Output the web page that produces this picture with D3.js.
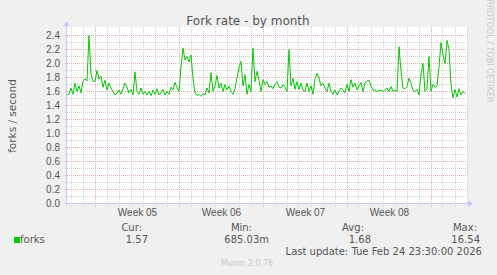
<!DOCTYPE html>
<html>
<head>
<meta charset="utf-8">
<script src="https://cdn.jsdelivr.net/npm/d3@7"></script>
<style>
  body { margin: 0; background: #f0f0f0; }
  svg { display: block; font-family: "DejaVu Sans", sans-serif; }
</style>
</head>
<body>
<svg id="chart"></svg>
<script>
// fork rate samples, one every 4 hours
var forkValues = [
  1.55,1.56,1.65,1.56,1.72,1.60,1.68,1.58,1.75,1.78,
  1.75,2.40,1.85,1.75,1.74,1.90,1.78,1.82,1.66,1.76,
  1.62,1.72,1.65,1.60,1.55,1.58,1.62,1.56,1.64,1.72,
  1.66,1.58,1.63,1.55,1.88,1.60,1.56,1.65,1.56,1.60,
  1.55,1.60,1.54,1.62,1.56,1.64,1.55,1.58,1.63,1.55,
  1.60,1.56,1.66,1.62,1.73,1.66,1.60,1.95,2.22,2.05,
  2.10,2.02,2.12,1.78,1.58,1.54,1.56,1.53,1.57,1.55,
  1.65,1.58,1.87,1.60,1.68,1.83,1.65,1.72,1.60,1.70,
  1.62,1.68,1.60,1.56,1.64,1.80,1.94,2.03,1.68,1.84,
  1.56,1.70,1.60,2.22,1.74,1.89,1.76,1.60,1.77,1.70,
  1.74,1.66,1.68,1.64,1.70,1.74,1.66,1.65,1.70,1.66,
  1.60,2.20,1.68,1.79,1.63,1.74,1.63,1.72,1.62,1.60,
  1.72,1.60,1.68,1.56,1.78,1.86,1.79,1.68,1.72,1.65,
  1.60,1.72,1.60,1.56,1.62,1.55,1.60,1.65,1.62,1.58,
  1.70,1.60,1.77,1.66,1.72,1.62,1.68,1.73,1.60,1.72,
  1.75,1.76,1.68,1.62,1.62,1.60,1.61,1.62,1.60,1.62,
  1.65,1.60,1.67,1.60,1.62,1.60,2.24,1.89,1.65,1.64,
  1.67,1.79,1.72,1.62,1.60,1.63,1.55,1.85,2.00,1.60,
  1.64,2.10,1.60,1.70,1.66,1.68,1.95,2.30,2.12,2.00,
  2.33,2.20,1.70,1.51,1.63,1.52,1.64,1.55,1.60,1.57
];
var firstSample = Date.UTC(2026, 0, 23, 16);
var stepHours = 4;
var timeDomain = [Date.UTC(2026, 0, 23, 16), Date.UTC(2026, 1, 26, 0)];

var yTicks = [0, 0.2, 0.4, 0.6, 0.8, 1.0, 1.2, 1.4, 1.6, 1.8, 2.0, 2.2, 2.4];
var yMinor = [0.1, 0.3, 0.5, 0.7, 0.9, 1.1, 1.3, 1.5, 1.7, 1.9, 2.1, 2.3];

var legendHeads = ["Cur:", "Min:", "Avg:", "Max:"];
var legendVals = ["1.57", "685.03m", "1.68", "16.54"];

var W = 497, H = 275;
var plot = {left: 67, right: 467, top: 28.5, bottom: 203.5};
var textCol = "#555";

var svg = d3.select("#chart").attr("width", W).attr("height", H);

svg.append("rect").attr("width", W).attr("height", H).attr("fill", "#f0f0f0");
svg.append("rect")
  .attr("x", plot.left).attr("y", 27)
  .attr("width", plot.right - plot.left).attr("height", plot.bottom - 27)
  .attr("fill", "#fff");

var x = d3.scaleUtc()
  .domain(timeDomain)
  .range([plot.left, plot.right]);
var y = d3.scaleLinear()
  .domain([0, 2.5])
  .range([plot.bottom, plot.top]);

var crisp = function(v) { return Math.round(v - 0.5) + 0.5; };

// grid
var grid = svg.append("g");
var days = x.ticks(d3.utcDay.every(1));
var mondays = x.ticks(d3.utcMonday.every(1));
var isMonday = function(d) { return d.getUTCDay() === 1; };

grid.selectAll(".vmin")
  .data(days.filter(function(d) { return !isMonday(d); }))
  .enter().append("line")
  .attr("x1", function(d) { return crisp(x(d)); })
  .attr("x2", function(d) { return crisp(x(d)); })
  .attr("y1", 27).attr("y2", plot.bottom + 3)
  .attr("stroke", "#d2d2d2").attr("stroke-dasharray", "1,1");

grid.selectAll(".hmin")
  .data(yMinor)
  .enter().append("line")
  .attr("x1", plot.left - 2).attr("x2", plot.right)
  .attr("y1", function(d) { return crisp(y(d)); })
  .attr("y2", function(d) { return crisp(y(d)); })
  .attr("stroke", "#d2d2d2").attr("stroke-dasharray", "1,1");

grid.selectAll(".hmaj")
  .data(yTicks.slice(1))
  .enter().append("line")
  .attr("x1", plot.left - 2).attr("x2", plot.right)
  .attr("y1", function(d) { return crisp(y(d)); })
  .attr("y2", function(d) { return crisp(y(d)); })
  .attr("stroke", "#eaa8a8").attr("stroke-dasharray", "1,1");

grid.selectAll(".vmaj")
  .data(mondays)
  .enter().append("line")
  .attr("x1", function(d) { return crisp(x(d)); })
  .attr("x2", function(d) { return crisp(x(d)); })
  .attr("y1", 27).attr("y2", plot.bottom + 3)
  .attr("stroke", "#eaa8a8").attr("stroke-dasharray", "1,1");

// data line
var line = d3.line()
  .x(function(d, i) { return x(firstSample + i * stepHours * 3600000); })
  .y(function(d) { return y(d); });

svg.append("path")
  .datum(forkValues)
  .attr("d", line)
  .attr("fill", "none")
  .attr("stroke", "#00cc00")
  .attr("stroke-width", 1);

// axis lines + arrows
var axisCol = "#c4c4ff";
svg.append("line")
  .attr("x1", plot.left - 0.5).attr("x2", plot.right + 2)
  .attr("y1", plot.bottom).attr("y2", plot.bottom)
  .attr("stroke", axisCol);
svg.append("line")
  .attr("x1", plot.left - 0.5).attr("x2", plot.left - 0.5)
  .attr("y1", plot.bottom + 2).attr("y2", 25)
  .attr("stroke", axisCol);
svg.append("path")
  .attr("d", "M" + (plot.right + 1) + "," + (plot.bottom - 3) + "L" + (plot.right + 6) + "," + plot.bottom + "L" + (plot.right + 1) + "," + (plot.bottom + 3) + "Z")
  .attr("fill", axisCol);
svg.append("path")
  .attr("d", "M" + (plot.left - 3.5) + ",26L" + (plot.left - 0.5) + ",21L" + (plot.left + 2.5) + ",26Z")
  .attr("fill", axisCol);

// y labels
var yAxis = d3.axisLeft(y)
  .tickValues(yTicks)
  .tickSize(0)
  .tickPadding(0)
  .tickFormat(d3.format(".1f"));
var yg = svg.append("g")
  .attr("transform", "translate(" + (plot.left - 7) + ",0)")
  .call(yAxis);
yg.select(".domain").remove();
yg.selectAll("text").attr("fill", textCol).style("font-size", "10px").attr("font-family", null);

// x week labels
var weekMid = mondays.map(function(d) { return d3.utcHour.offset(d, 84); })
  .filter(function(d) { return d < timeDomain[1]; });
var xAxis = d3.axisBottom(x)
  .tickValues(weekMid)
  .tickSize(0)
  .tickPadding(0)
  .tickFormat(function(d) { return "Week " + d3.utcFormat("%V")(d); });
var xg = svg.append("g")
  .attr("transform", "translate(0," + (plot.bottom + 5) + ")")
  .call(xAxis);
xg.select(".domain").remove();
xg.selectAll("text").attr("fill", textCol).style("font-size", "10px").attr("font-family", null);

// title
svg.append("text")
  .attr("x", 248).attr("y", 25)
  .attr("text-anchor", "middle")
  .attr("fill", textCol)
  .style("font-size", "12px")
  .text("Fork rate - by month");

svg.append("text")
  .attr("transform", "translate(16,116) rotate(-90)")
  .attr("text-anchor", "middle")
  .attr("fill", textCol)
  .style("font-size", "10.5px")
  .text("forks / second");

svg.append("text")
  .attr("transform", "translate(487,51) rotate(90)")
  .attr("text-anchor", "middle")
  .attr("fill", "#c8c8c8")
  .style("font-size", "8px")
  .text("RRDTOOL / TOBI OETIKER");

// legend
svg.append("rect")
  .attr("x", 14).attr("y", 237).attr("width", 6).attr("height", 6)
  .attr("fill", "#00cc00");
svg.append("text")
  .attr("x", 20).attr("y", 243)
  .attr("fill", textCol).style("font-size", "10px")
  .text("forks");

var headRight = [142, 252, 364, 477];
var valRight = [148, 269, 371, 480];

svg.selectAll(".head")
  .data(legendHeads)
  .enter().append("text")
  .attr("x", function(d, i) { return headRight[i]; })
  .attr("y", 231)
  .attr("text-anchor", "end")
  .attr("fill", textCol).style("font-size", "10px")
  .text(function(d) { return d; });

svg.selectAll(".val")
  .data(legendVals)
  .enter().append("text")
  .attr("x", function(d, i) { return valRight[i]; })
  .attr("y", 243)
  .attr("text-anchor", "end")
  .attr("fill", textCol).style("font-size", "10px")
  .text(function(d) { return d; });

svg.append("text")
  .attr("x", 482).attr("y", 255)
  .attr("text-anchor", "end")
  .attr("fill", textCol).style("font-size", "10px")
  .text("Last update: Tue Feb 24 23:30:00 2026");

svg.append("text")
  .attr("x", 247).attr("y", 266)
  .attr("text-anchor", "middle")
  .attr("fill", "#c8c8c8").style("font-size", "8px")
  .text("Munin 2.0.76");
</script>
</body>
</html>
